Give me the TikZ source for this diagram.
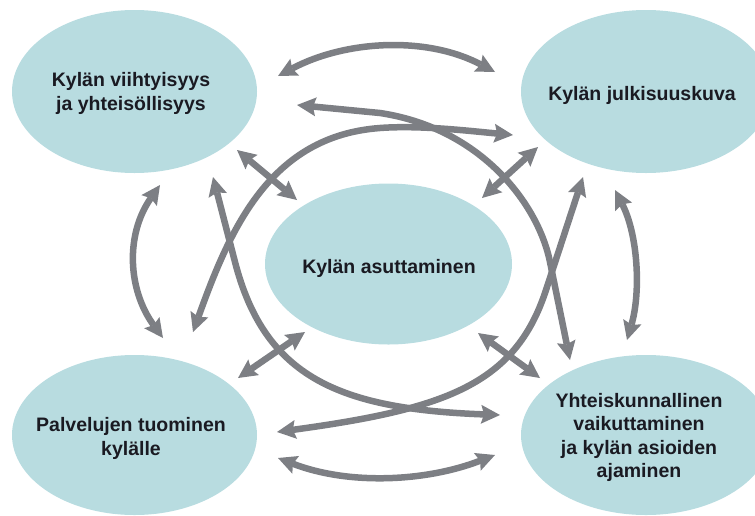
\documentclass[tikz,border=0pt]{standalone}
\usepackage{fontspec}
\setmainfont{Liberation Sans}
\usetikzlibrary{arrows.meta,shapes.geometric}
\definecolor{ellfill}{RGB}{184,220,224}
\definecolor{arrowgray}{RGB}{125,127,132}
\definecolor{txtcol}{RGB}{26,26,34}
\begin{document}
\begin{tikzpicture}[x=1pt,y=-1pt,
  blob/.style={ellipse, fill=ellfill, draw=none, inner sep=0pt},
  lbl/.style={align=center, text=txtcol, inner sep=0pt,
    font=\bfseries\fontsize{19.5}{23.5}\selectfont},
  link/.style={draw=arrowgray, line width=6.5pt,
    {Stealth[length=19pt,width=19pt,inset=3pt,line width=0pt]}-{Stealth[length=19pt,width=19pt,inset=3pt,line width=0pt]}},
]
\useasboundingbox (0,0) rectangle (755,515);

% ellipses
\node[blob, minimum width=245pt, minimum height=163pt] (e1) at (134.5,91.5) {};
\node[blob, minimum width=250pt, minimum height=163pt] (e2) at (646,91.5) {};
\node[blob, minimum width=247pt, minimum height=161pt] (e3) at (388.5,264) {};
\node[blob, minimum width=245pt, minimum height=160pt] (e4) at (134.5,435) {};
\node[blob, minimum width=250pt, minimum height=160pt] (e5) at (646,435) {};

% arrow end points
\coordinate (a1) at (278,76);   \coordinate (a2) at (495,72);
\coordinate (b1) at (278,458);  \coordinate (b2) at (495,455);
\coordinate (l1) at (160,185);  \coordinate (l2) at (163,338);
\coordinate (r1) at (615,190);  \coordinate (r2) at (627,340);
\coordinate (d1a) at (237,150); \coordinate (d1b) at (297,200);
\coordinate (d2a) at (538,147); \coordinate (d2b) at (482,198);
\coordinate (d3a) at (305,332); \coordinate (d3b) at (238,378);
\coordinate (d4a) at (478,333); \coordinate (d4b) at (540,378);
\coordinate (p1) at (513,135);  \coordinate (p2) at (193,332);
\coordinate (q1) at (213,177);  \coordinate (q2) at (500,415);
\coordinate (s1) at (583,177);  \coordinate (s2) at (277,432);
\coordinate (u1) at (297,105);  \coordinate (u2) at (570,360);

% arches between corners
\draw[link] (a1) .. controls (346,40) and (427,36) .. (a2);
\draw[link] (b1) .. controls (348,485) and (425,482) .. (b2);
\draw[link] (l1) .. controls (125,235) and (128,290) .. (l2);
\draw[link] (r1) .. controls (638,235) and (641,292) .. (r2);

% diagonals to the centre
\draw[link] (d1a) -- (d1b);
\draw[link] (d2a) -- (d2b);
\draw[link] (d3a) -- (d3b);
\draw[link] (d4a) -- (d4b);

% large crossing curves
\draw[link] (p1) .. controls (470,131) and (420,125) .. (380,128)
            .. controls (270,136) and (230,229) .. (p2);
\draw[link] (q1) -- (235,262) .. controls (265,378) and (340,409) .. (q2);
\draw[link] (s1) -- (546,290) .. controls (515,385) and (445,409) .. (s2);
\draw[link] (u1) -- (380,113) .. controls (480,128) and (538,203) .. (550,262) -- (u2);

% labels
\node[lbl] (t1) at (131,93.5) {Kylän viihtyisyys\\ja yhteisöllisyys};
\node[lbl] (t2) at (642,95) {Kylän julkisuuskuva};
\node[lbl] (t3) at (389,268) {Kylän asuttaminen};
\node[lbl] (t4) at (131,438.5) {Palvelujen tuominen\\kylälle};
\node[lbl] (t5) at (639,437.5) {Yhteiskunnallinen\\vaikuttaminen\\ja kylän asioiden\\ajaminen};
\end{tikzpicture}
\end{document}
